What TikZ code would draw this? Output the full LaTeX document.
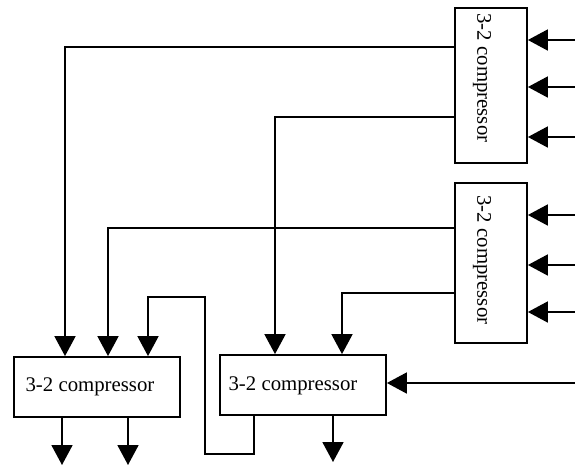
\documentclass[tikz,border=0pt]{standalone}
\usepackage{fontspec}
\setmainfont{Liberation Serif}
\usetikzlibrary{arrows.meta}
\begin{document}
\begin{tikzpicture}[x=0.5pt,y=-0.5pt,
  box/.style={draw,line width=0.9pt,inner sep=0pt,fill=white},
  lbl/.style={font=\fontsize{10.4}{12}\selectfont,inner sep=0pt},
  wire/.style={line width=0.9pt},
  arr/.style={wire,-{Triangle[length=10pt,width=10.5pt]}}]
\useasboundingbox (0,0) rectangle (575,467);
% boxes
\node[box,minimum width=36pt,minimum height=77.5pt] (c1) at (491,85.5) {};
\node[box,minimum width=36pt,minimum height=80pt] (c2) at (491,263) {};
\node[box,minimum width=83pt,minimum height=30pt] (c3) at (97,387) {};
\node[box,minimum width=83pt,minimum height=30pt] (c4) at (303,385) {};
% labels
\node[lbl,rotate=-90] (t1) at (482,78) {3-2 compressor};
\node[lbl,rotate=-90] (t2) at (482,260) {3-2 compressor};
\node[lbl] (t3) at (90,387) {3-2 compressor};
\node[lbl] (t4) at (293,386) {3-2 compressor};
% free ends
\coordinate (i1) at (575,40);
\coordinate (i2) at (575,87);
\coordinate (i3) at (575,137);
\coordinate (i4) at (575,215);
\coordinate (i5) at (575,265);
\coordinate (i6) at (575,312);
\coordinate (i7) at (575,383);
\coordinate (o1) at (62,465);
\coordinate (o2) at (128,465);
\coordinate (o3) at (333,462);
% inputs
\foreach \i/\n in {i1/c1,i2/c1,i3/c1,i4/c2,i5/c2,i6/c2,i7/c4}
  \draw[arr] (\i) -- (\n.east |- \i);
% cross connections
\draw[arr] (c1.west |- 0,47) -| (c3.north -| 65,0);
\draw[arr] (c1.west |- 0,117) -| (c4.north -| 275,0);
\draw[arr] (c2.west |- 0,228) -| (c3.north -| 108,0);
\draw[arr] (c2.west |- 0,293) -| (c4.north -| 342,0);
\draw[arr] (c4.south -| 254,0) |- (205,454) |- (148,297) -- (c3.north -| 148,0);
% outputs
\draw[arr] (c3.south -| o1) -- (o1);
\draw[arr] (c3.south -| o2) -- (o2);
\draw[arr] (c4.south -| o3) -- (o3);
\end{tikzpicture}
\end{document}
